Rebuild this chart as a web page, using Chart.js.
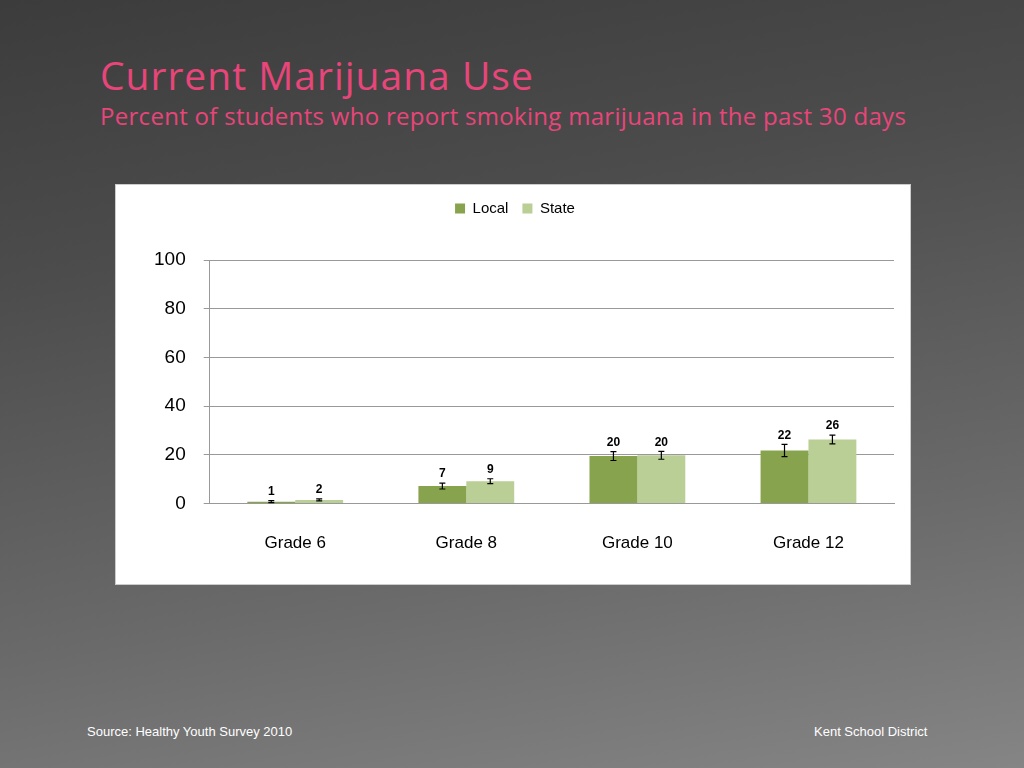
<!DOCTYPE html>
<html><head><meta charset="utf-8">
<script src="https://cdn.jsdelivr.net/npm/chart.js@4"></script>
<style>
html,body{margin:0;width:1024px;height:768px;overflow:hidden;font-family:"Liberation Sans",Arial,sans-serif}
body{background:linear-gradient(170deg,#3c3c3c 0%,#4c4c4c 30%,#6a6a6a 70%,#858585 100%);position:relative}
#t1{position:absolute;left:100px;top:52px;color:#e8457a;font-family:"Open Sans",sans-serif;font-size:39px;line-height:46px;letter-spacing:1px}
#t2{position:absolute;left:100px;top:101px;color:#e8457a;font-family:"Open Sans",sans-serif;font-size:24px;line-height:30px;letter-spacing:0.3px}
#box{position:absolute;left:115px;top:184px;width:794px;height:399px;background:#fff;border:1px solid #ccc}
.ft{position:absolute;top:724px;color:#fff;font-size:13px}
</style></head><body>
<div id="t1">Current Marijuana Use</div>
<div id="t2">Percent of students who report smoking marijuana in the past 30 days</div>
<div id="box"><canvas id="c" width="794" height="399"></canvas></div>
<div class="ft" style="left:87px">Source: Healthy Youth Survey 2010</div>
<div class="ft" style="left:814px">Kent School District</div>
<script>
const categories=["Grade 6","Grade 8","Grade 10","Grade 12"];
const localVals=[0.8,7.2,19.5,21.8];
const stateVals=[1.5,9.2,19.8,26.3];
const localLabels=["1","7","20","22"];
const stateLabels=["2","9","20","26"];
const localErr=[0.4,1.2,1.8,2.5];
const stateErr=[0.4,1.0,1.6,1.8];
const yTicks=[0,20,40,60,80,100];
const errs=[localErr,stateErr],labs=[localLabels,stateLabels];
const errPlugin={id:'err',afterDatasetsDraw(ch){const c=ch.ctx,y=ch.scales.y;
ch.data.datasets.forEach((ds,i)=>{ch.getDatasetMeta(i).data.forEach((b,j)=>{
const v=ds.data[j],e=errs[i][j],top=y.getPixelForValue(v+e),bot=y.getPixelForValue(v-e);
c.save();c.strokeStyle='#000';c.lineWidth=1.2;c.beginPath();
c.moveTo(b.x,top);c.lineTo(b.x,bot);c.moveTo(b.x-3,top);c.lineTo(b.x+3,top);c.moveTo(b.x-3,bot);c.lineTo(b.x+3,bot);c.stroke();
c.fillStyle='#000';c.font='bold 12px "Liberation Sans",Arial';c.textAlign='center';c.textBaseline='bottom';
c.fillText(labs[i][j],b.x,top-3);c.restore();});});}};
const legendPad={id:'legendPad',beforeInit(ch){const f=ch.legend.fit;ch.legend.fit=function(){f.bind(this)();this.height+=34;};}};
new Chart(document.getElementById('c'),{type:'bar',
data:{labels:categories,datasets:[
{label:'Local',data:localVals,backgroundColor:'#87a34e',categoryPercentage:0.56,barPercentage:1},
{label:'State',data:stateVals,backgroundColor:'#b9cf95',categoryPercentage:0.56,barPercentage:1}]},
options:{responsive:false,animation:false,
layout:{padding:{left:20,right:16,top:2,bottom:8}},
plugins:{legend:{labels:{boxWidth:10,boxHeight:10,color:'#000',font:{size:15,family:'"Liberation Sans",Arial'},padding:14}},tooltip:{enabled:false}},
scales:{y:{min:0,max:100,afterBuildTicks(a){a.ticks=yTicks.map(v=>({value:v}));},
ticks:{color:'#000',font:{size:19,family:'"Liberation Sans",Arial'},padding:18},
grid:{color:'#999',drawTicks:true,tickLength:6},border:{color:'#999'}},
x:{ticks:{color:'#000',font:{size:17,family:'"Liberation Sans",Arial'},padding:22},grid:{display:false},border:{color:'#999'}}}},
plugins:[errPlugin,legendPad]});
</script></body></html>
